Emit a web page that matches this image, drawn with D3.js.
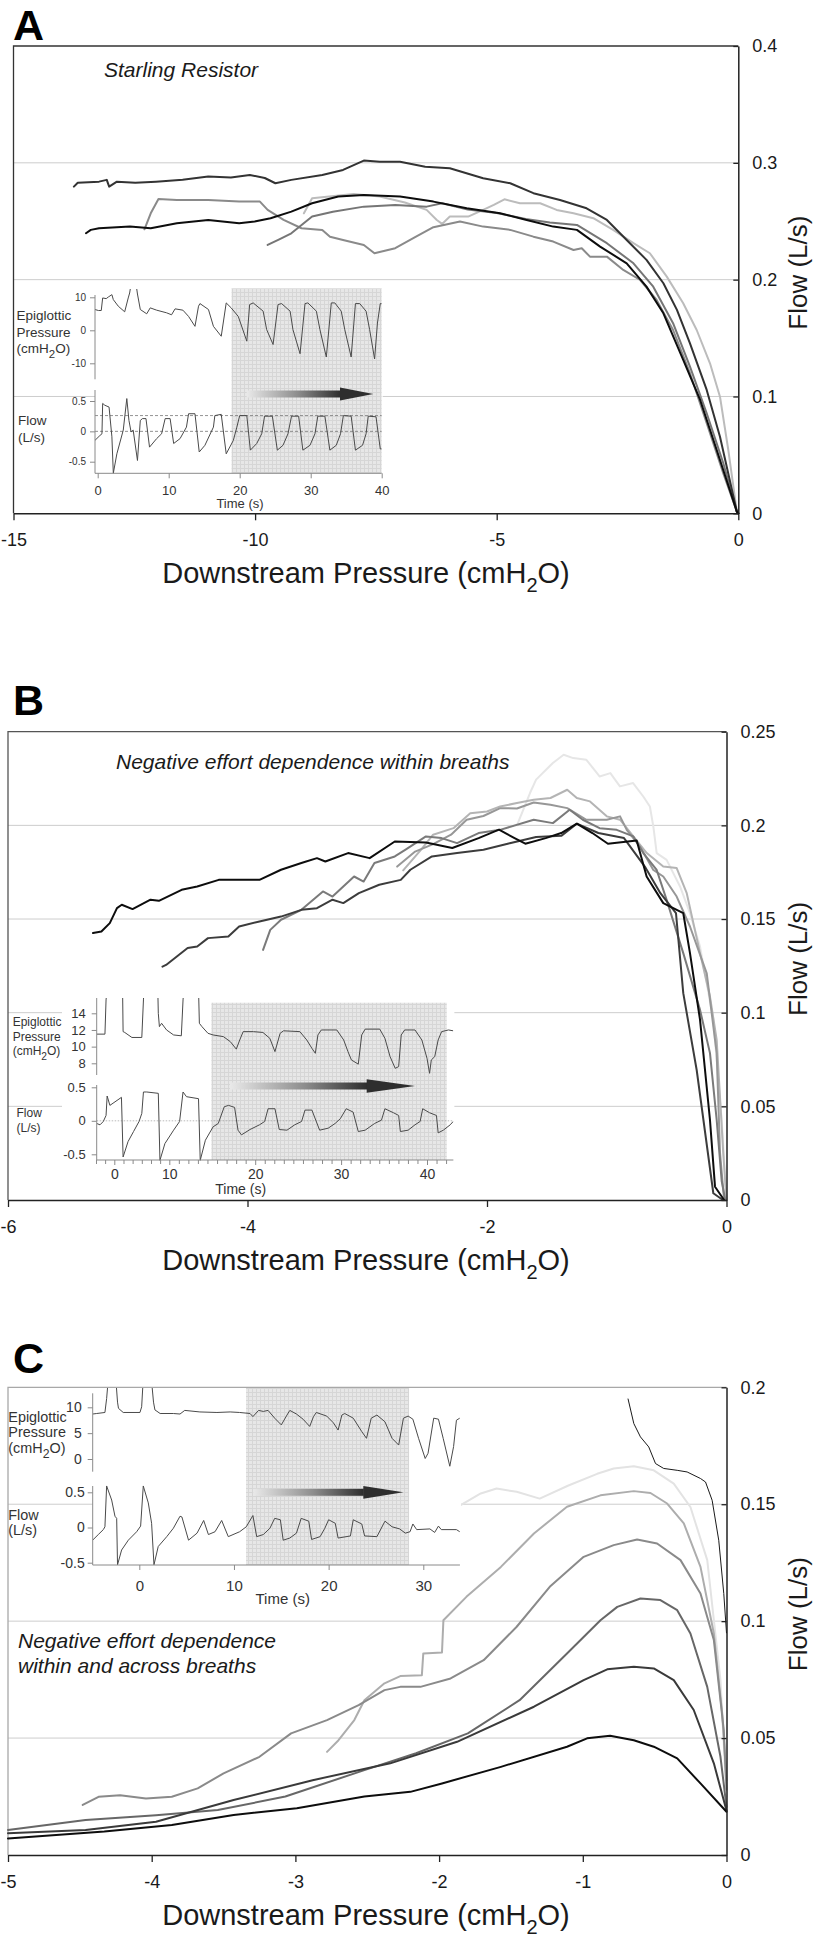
<!DOCTYPE html>
<html>
<head>
<meta charset="utf-8">
<script src="https://cdn.jsdelivr.net/npm/d3@7/dist/d3.min.js"></script>
<style>
html,body{margin:0;padding:0;background:#fff;}
svg{display:block;}
</style>
</head>
<body>
<svg id="chart" width="815" height="1935"></svg>
<script>
// ================= PANEL A : Starling resistor =================
const aXTicks = [-15, -10, -5, 0];
const aXTickLabels = ["-15", "-10", "-5", "0"];
const aYTicks = [0, 0.1, 0.2, 0.3, 0.4];
const aYTickLabels = ["0", "0.1", "0.2", "0.3", "0.4"];
// [downstream pressure (cmH2O), flow (L/s)]
const aCurveDark = [[-13.75,0.2796],[-13.67,0.283],[-13.23,0.2839],[-13.07,0.2854],[-13.02,0.2796],[-12.86,0.2839],[-12.48,0.283],[-12.05,0.2839],[-11.5,0.2855],[-10.97,0.2882],[-10.5,0.2875],[-10.11,0.2896],[-9.8,0.287],[-9.58,0.2825],[-9.25,0.2854],[-8.61,0.2896],[-8.18,0.2939],[-7.75,0.3019],[-7.42,0.301],[-7.0,0.301],[-6.48,0.2967],[-5.97,0.2954],[-5.28,0.2868],[-4.72,0.2825],[-4.24,0.274],[-3.69,0.2682],[-3.14,0.2611],[-2.72,0.2511],[-2.31,0.234],[-1.9,0.2169],[-1.55,0.1969],[-1.27,0.1741],[-1.0,0.1455],[-0.654,0.1056],[-0.379,0.0656],[-0.03,0.0014],[0,0]];
const aCurveBlack = [[-13.5,0.2397],[-13.4,0.2426],[-13.23,0.244],[-12.59,0.2454],[-12.16,0.244],[-11.62,0.2483],[-10.97,0.2511],[-10.33,0.2483],[-10.01,0.2497],[-9.68,0.2526],[-9.25,0.2582],[-8.82,0.2654],[-8.28,0.2711],[-7.75,0.2725],[-7.0,0.2711],[-6.31,0.2668],[-5.62,0.2611],[-4.93,0.2568],[-4.38,0.2511],[-3.83,0.2454],[-3.34,0.2426],[-2.86,0.2283],[-2.31,0.214],[-1.9,0.194],[-1.55,0.1712],[-1.14,0.1313],[-0.79,0.097],[-0.447,0.0542],[-0.03,0.0014],[0,0]];
const aCurveGrayA = [[-12.29,0.2431],[-12.16,0.2568],[-12.0,0.2691],[-11.62,0.2682],[-10.97,0.2682],[-10.33,0.2668],[-9.9,0.2668],[-9.74,0.2597],[-9.41,0.2511],[-9.04,0.244],[-8.61,0.2426],[-8.45,0.2368],[-8.18,0.234],[-7.75,0.2297],[-7.53,0.2226],[-7.1,0.2269],[-6.67,0.2368],[-6.31,0.2449],[-5.76,0.2497],[-5.28,0.2454],[-4.72,0.2426],[-4.24,0.2368],[-3.83,0.2326],[-3.41,0.2254],[-3.24,0.2269],[-3.07,0.2197],[-2.72,0.2197],[-2.38,0.2083],[-2.03,0.1997],[-1.69,0.1826],[-1.35,0.1569],[-1.0,0.1199],[-0.654,0.0771],[-0.31,0.0342],[-0.03,0.0014],[0,0]];
const aCurveGrayB = [[-9.74,0.2297],[-9.5,0.2345],[-9.25,0.2397],[-8.82,0.254],[-8.39,0.2582],[-7.75,0.2625],[-7.1,0.264],[-6.45,0.2625],[-6.13,0.2654],[-5.6,0.26],[-5.0,0.257],[-4.4,0.252],[-3.9,0.249],[-3.34,0.2468],[-2.72,0.2312],[-2.17,0.214],[-1.76,0.194],[-1.35,0.1627],[-1.0,0.1255],[-0.654,0.0856],[-0.31,0.0428],[-0.03,0.0014],[0,0]];
const aCurveLight = [[-8.99,0.2568],[-8.82,0.2697],[-7.96,0.2734],[-7.42,0.2711],[-6.9,0.266],[-6.45,0.2597],[-6.24,0.2511],[-6.13,0.2477],[-5.97,0.254],[-5.59,0.254],[-5.28,0.2597],[-5.06,0.264],[-4.84,0.2688],[-4.52,0.2654],[-4.1,0.2654],[-3.76,0.2597],[-3.41,0.2568],[-3.0,0.2526],[-2.59,0.2426],[-2.17,0.2312],[-1.83,0.2226],[-1.48,0.2026],[-1.14,0.1798],[-0.861,0.1569],[-0.586,0.1284],[-0.379,0.0998],[-0.207,0.0542],[-0.03,0.0014],[0,0]];
// inset A : [time (s), value]
const aInsetTimeTicks = [0, 10, 20, 30, 40];
const aInsetPressTicks = [-10, 0, 10];
const aInsetPressLabels = ["-10", "0", "10"];
const aInsetFlowTicks = [-0.5, 0, 0.5];
const aInsetFlowLabels = ["-0.5", "0", "0.5"];
const aInsetFlowRefs = [0, 0.26];
const aInsetPressure = [[-0.4,6.3],[0.1,6],[0.5,6],[0.7,9.8],[1.2,9.6],[1.5,10.1],[2.0,10.8],[2.2,9.3],[2.9,7.3],[3.8,5.6],[4.3,9.8],[4.5,11.3],[4.7,14],[5.4,14],[5.6,11],[6.0,6.3],[6.9,5],[7.4,6.8],[8.3,6.1],[9.7,5.3],[10.4,4.7],[10.9,6.5],[12.0,6.1],[12.8,4.2],[13.7,1.2],[14.2,7.3],[14.4,8.1],[15.6,6.3],[16.3,1.2],[17.4,-1.8],[18.1,8.3],[18.8,6.8],[19.8,4.2],[21.0,-3.3],[21.4,7.8],[21.9,8.3],[23.3,5.8],[23.8,0.2],[24.7,-4.3],[25.4,7.8],[25.9,8.1],[27.1,5.8],[27.5,0.2],[28.5,-7.1],[29.2,8.1],[29.6,8.3],[30.8,5.8],[31.3,0.2],[32.2,-8.1],[32.9,8.3],[33.4,8.3],[34.3,5.8],[34.8,0.2],[35.7,-8.1],[36.3,8.1],[36.9,8.1],[37.8,5.8],[38.3,0.2],[39.0,-8.7],[39.4,2.2],[39.8,8.1],[40.0,8.1]];
const aInsetFlow = [[-0.4,-0.15],[0.3,-0.07],[0.6,-0.04],[0.7,0.46],[1.0,0.43],[1.6,0.40],[2.0,-0.09],[2.2,-0.69],[2.7,-0.37],[3.6,0.02],[4.1,0.54],[4.4,0.18],[4.7,-0.01],[5.0,0.02],[5.6,-0.48],[6.0,0.18],[6.3,0.21],[6.8,0.21],[7.3,-0.26],[8.3,-0.12],[9.0,-0.04],[9.5,0.21],[10.2,0.21],[10.7,-0.2],[11.6,-0.12],[12.5,0.07],[12.8,0.29],[13.7,0.29],[14.3,-0.34],[15.1,-0.23],[16.3,0.07],[16.5,0.26],[17.4,0.28],[18.1,-0.37],[19.1,-0.15],[19.6,0.07],[20.0,0.26],[21.0,0.26],[21.5,-0.31],[22.4,-0.2],[23.1,-0.04],[23.5,0.25],[24.6,0.25],[25.3,-0.31],[26.1,-0.23],[26.8,-0.04],[27.3,0.25],[28.3,0.25],[28.9,-0.31],[29.9,-0.23],[30.6,-0.04],[31.0,0.25],[32.0,0.25],[32.7,-0.31],[33.6,-0.23],[34.2,-0.04],[34.6,0.26],[35.7,0.25],[36.3,-0.31],[37.3,-0.23],[37.8,-0.04],[38.1,0.25],[39.2,0.24],[39.8,-0.29],[40.0,-0.29]];

// ================= PANEL B : within breaths =================
const bXTicks = [-6, -4, -2, 0];
const bXTickLabels = ["-6", "-4", "-2", "0"];
const bYTicks = [0, 0.05, 0.1, 0.15, 0.2, 0.25];
const bYTickLabels = ["0", "0.05", "0.1", "0.15", "0.2", "0.25"];
const bCurveBlack = [[-5.29,0.1425],[-5.22,0.1433],[-5.15,0.1478],[-5.09,0.1558],[-5.05,0.1576],[-4.96,0.1553],[-4.81,0.1603],[-4.74,0.1597],[-4.55,0.1656],[-4.42,0.1674],[-4.24,0.1709],[-3.9,0.1709],[-3.72,0.1763],[-3.55,0.1799],[-3.42,0.1825],[-3.35,0.1807],[-3.16,0.1852],[-2.98,0.1825],[-2.77,0.1914],[-2.51,0.1909],[-2.29,0.1879],[-2.07,0.1932],[-1.9,0.1977],[-1.77,0.1932],[-1.68,0.1902],[-1.51,0.1932],[-1.38,0.1959],[-1.25,0.2009],[-1.12,0.1959],[-0.99,0.1902],[-0.75,0.1919],[-0.667,0.1727],[-0.528,0.1585],[-0.361,0.1531],[-0.305,0.1318],[-0.221,0.0962],[-0.138,0.0427],[-0.096,0.0071],[-0.02,0]];
const bCurveDark = [[-4.71,0.1246],[-4.68,0.1255],[-4.59,0.13],[-4.5,0.1345],[-4.42,0.1353],[-4.33,0.1398],[-4.16,0.1407],[-4.07,0.146],[-3.9,0.1487],[-3.72,0.1513],[-3.55,0.1549],[-3.42,0.1558],[-3.29,0.1603],[-3.2,0.1585],[-3.07,0.1638],[-2.9,0.1683],[-2.72,0.1709],[-2.64,0.1763],[-2.46,0.1834],[-2.25,0.1852],[-2.03,0.187],[-1.81,0.1905],[-1.59,0.1938],[-1.38,0.1944],[-1.25,0.2009],[-1.07,0.1959],[-0.856,0.1932],[-0.682,0.178],[-0.552,0.1638],[-0.422,0.1532],[-0.361,0.1104],[-0.249,0.0694],[-0.11,0.0036],[-0.03,0]];
const bCurveGray = [[-3.87,0.1335],[-3.81,0.1442],[-3.72,0.1496],[-3.55,0.1549],[-3.37,0.1647],[-3.29,0.162],[-3.11,0.1727],[-3.03,0.17],[-2.94,0.1799],[-2.77,0.1834],[-2.68,0.187],[-2.51,0.1941],[-2.38,0.1932],[-2.25,0.1905],[-2.07,0.1959],[-1.89,0.1976],[-1.61,0.203],[-1.45,0.2012],[-1.31,0.2083],[-1.2,0.203],[-1.06,0.1985],[-0.917,0.1976],[-0.778,0.1941],[-0.695,0.1852],[-0.583,0.1762],[-0.5,0.1602],[-0.361,0.1318],[-0.221,0.1015],[-0.138,0.0784],[-0.082,0.0427],[-0.04,0.01],[-0.01,0]];
const bCurveMid = [[-2.75,0.178],[-2.6,0.186],[-2.45,0.19],[-2.3,0.195],[-2.17,0.203],[-2.03,0.205],[-1.89,0.2092],[-1.75,0.209],[-1.61,0.2122],[-1.47,0.211],[-1.33,0.2092],[-1.17,0.203],[-1.0,0.203],[-0.889,0.2048],[-0.833,0.1976],[-0.722,0.1887],[-0.611,0.1762],[-0.528,0.1727],[-0.416,0.162],[-0.305,0.146],[-0.165,0.121],[-0.082,0.0784],[-0.054,0.025],[-0.02,0]];
const bCurveLight = [[-2.7,0.176],[-2.55,0.187],[-2.45,0.195],[-2.28,0.1985],[-2.14,0.2065],[-2.0,0.2074],[-1.89,0.2101],[-1.75,0.2119],[-1.61,0.2137],[-1.47,0.2146],[-1.33,0.219],[-1.25,0.2146],[-1.14,0.2128],[-1.0,0.2048],[-0.889,0.203],[-0.778,0.1941],[-0.666,0.1852],[-0.528,0.178],[-0.416,0.1772],[-0.332,0.1638],[-0.221,0.1318],[-0.138,0.1086],[-0.082,0.0855],[-0.027,0.0249],[0,0]];
const bCurveFaint = [[-1.75,0.2],[-1.64,0.2174],[-1.59,0.2244],[-1.45,0.2333],[-1.36,0.2377],[-1.28,0.2359],[-1.17,0.235],[-1.06,0.2261],[-0.97,0.2279],[-0.89,0.2208],[-0.78,0.2226],[-0.695,0.2154],[-0.64,0.2101],[-0.611,0.1994],[-0.583,0.1852],[-0.5,0.1816],[-0.388,0.1674],[-0.305,0.1531],[-0.221,0.1353],[-0.11,0.0962],[-0.04,0.0427],[0,0]];
// inset B
const bInsetTimeTicks = [0, 10, 20, 30, 40];
const bInsetTimeBreaks = [0, 10, 40];
const bInsetMinorTicks = [-3.33,-1.67,1.67,3.33,5,6.67,8.33,11.11,12.22,13.33,14.44,15.56,16.67,17.78,18.89,21.11,22.22,23.33,24.44,25.56,26.67,27.78,28.89,31.11,32.22,33.33,34.44,35.56,36.67,37.78,38.89,41.11,42.22];
const bInsetPressTicks = [8, 10, 12, 14];
const bInsetPressLabels = ["8", "10", "12", "14"];
const bInsetFlowTicks = [-0.5, 0, 0.5];
const bInsetFlowLabels = ["-0.5", "0", "0.5"];
const bInsetFlowRefs = [0];
const bInsetPressure = [[-3.2,11.5],[-1.7,11.5],[-1.5,15.6],[-1.3,17],[1.5,17],[1.6,11.8],[1.9,11.7],[3.2,11.1],[5.0,11.1],[5.3,15.6],[5.4,17],[7.9,17],[8.0,14],[8.2,12.4],[8.6,12.8],[9.5,12.0],[10.5,11.4],[11.4,11.3],[11.6,15.6],[11.7,17],[13.4,17],[13.5,12.8],[13.8,12.4],[14.5,11.6],[15.1,11.4],[16.3,11.2],[17.1,10.6],[17.8,9.7],[18.2,10.8],[18.6,11.8],[19.8,11.8],[20.9,11.7],[21.7,11],[22.3,9.4],[22.9,11.6],[23.3,11.9],[25.2,11.8],[26.0,10.8],[26.6,9.8],[27.0,9.2],[27.3,11.4],[27.7,12],[29.5,12],[30.3,10.8],[30.8,9.4],[31.2,8.4],[32.0,7.9],[32.4,11.4],[32.8,12.1],[34.5,12.1],[35.1,11],[35.7,8.8],[36.3,7.4],[36.7,7.6],[37.0,11.4],[37.4,12],[38.6,12],[39.4,10.8],[40.0,8.6],[40.3,6.8],[40.5,8.4],[40.9,8.8],[41.3,10.8],[41.7,11.8],[42.5,12],[43.05,11.9]];
const bInsetFlow = [[-3.2,-0.04],[-2.6,-0.06],[-2.0,-0.01],[-1.5,0.08],[-1.3,0.37],[-0.8,0.23],[1.3,0.35],[1.6,-0.54],[2.5,-0.31],[3.5,-0.16],[4.5,-0.01],[5.0,0.11],[5.3,0.43],[5.9,0.43],[8.0,0.41],[8.3,-0.59],[9.2,-0.34],[10.5,-0.14],[11.2,-0.01],[11.6,0.43],[12.0,0.36],[13.4,0.33],[13.6,-0.59],[14.2,-0.29],[15.1,-0.09],[15.7,-0.04],[16.4,0.21],[16.9,0.23],[17.6,0.2],[18.0,-0.14],[18.4,-0.21],[19.4,-0.13],[20.5,-0.06],[21.1,-0.01],[21.5,0.18],[22.3,0.18],[22.8,-0.13],[23.7,-0.14],[24.6,-0.06],[25.4,-0.01],[25.8,0.16],[26.6,0.16],[27.5,-0.14],[28.5,-0.11],[29.3,-0.04],[29.9,0.03],[30.6,0.18],[31.4,0.13],[32.0,-0.16],[32.8,-0.14],[33.9,-0.04],[34.7,0.01],[35.1,0.18],[36.1,0.12],[36.7,0.08],[36.9,-0.16],[37.8,-0.14],[38.6,-0.06],[39.2,-0.01],[39.5,0.18],[40.3,0.12],[41.1,0.08],[41.3,-0.18],[41.9,-0.14],[42.7,-0.06],[43.05,-0.01]];

// ================= PANEL C : within and across breaths =================
const cXTicks = [-5, -4, -3, -2, -1, 0];
const cXTickLabels = ["-5", "-4", "-3", "-2", "-1", "0"];
const cYTicks = [0, 0.05, 0.1, 0.15, 0.2];
const cYTickLabels = ["0", "0.05", "0.1", "0.15", "0.2"];
const cCurveBlack = [[-5,0.0071],[-4.33,0.010],[-3.86,0.0128],[-3.43,0.0171],[-2.99,0.020],[-2.52,0.025],[-2.2,0.027],[-1.98,0.0306],[-1.57,0.0377],[-1.11,0.0463],[-0.97,0.0499],[-0.81,0.051],[-0.645,0.0491],[-0.506,0.0463],[-0.343,0.0413],[-0.181,0.0306],[0,0.0185]];
const cCurveDark = [[-5,0.0093],[-4.46,0.0107],[-3.97,0.0142],[-3.43,0.0235],[-2.88,0.032],[-2.34,0.0392],[-1.875,0.0484],[-1.34,0.0634],[-0.994,0.0748],[-0.83,0.0794],[-0.645,0.0805],[-0.506,0.0798],[-0.367,0.0748],[-0.228,0.062],[-0.088,0.0392],[0,0.019]];
const cCurveMid = [[-5,0.0107],[-4.46,0.015],[-3.97,0.017],[-3.54,0.0192],[-3.07,0.025],[-2.52,0.0363],[-2.16,0.0435],[-1.8,0.052],[-1.44,0.0662],[-1.11,0.0862],[-0.877,0.1004],[-0.76,0.1061],[-0.599,0.1097],[-0.46,0.109],[-0.343,0.1047],[-0.251,0.0947],[-0.134,0.0719],[-0.042,0.042],[0,0.0206]];
const cCurveGray = [[-4.48,0.0214],[-4.37,0.0249],[-4.22,0.0256],[-4.04,0.0242],[-3.86,0.0249],[-3.68,0.0285],[-3.5,0.0349],[-3.25,0.042],[-3.03,0.052],[-2.78,0.0577],[-2.56,0.0641],[-2.38,0.0705],[-2.27,0.0719],[-2.13,0.0719],[-1.92,0.0755],[-1.69,0.0833],[-1.46,0.0976],[-1.23,0.1147],[-0.994,0.1275],[-0.785,0.1325],[-0.622,0.1349],[-0.483,0.1332],[-0.32,0.1261],[-0.181,0.1118],[-0.088,0.0919],[-0.019,0.0534],[0,0.028]];
const cCurveLight = [[-2.78,0.0441],[-2.7,0.0491],[-2.59,0.0577],[-2.52,0.0662],[-2.38,0.0734],[-2.27,0.0765],[-2.12,0.0769],[-2.11,0.0862],[-1.98,0.0866],[-1.97,0.1004],[-1.81,0.1104],[-1.57,0.1232],[-1.34,0.1375],[-1.11,0.1489],[-0.877,0.1538],[-0.645,0.1556],[-0.529,0.1548],[-0.413,0.1503],[-0.297,0.1418],[-0.181,0.1232],[-0.088,0.0947],[-0.03,0.0605],[0,0.032]];
const cCurveFaint = [[-2.5,0.13],[-2.1,0.142],[-1.85,0.1496],[-1.71,0.1546],[-1.6,0.1567],[-1.46,0.1553],[-1.3,0.1524],[-1.1,0.158],[-0.9,0.163],[-0.785,0.1653],[-0.645,0.1662],[-0.506,0.1645],[-0.367,0.1588],[-0.251,0.1488],[-0.134,0.1261],[-0.042,0.0748],[0,0.025]];
const cCurveThin = [[-0.685,0.195],[-0.645,0.1845],[-0.599,0.1788],[-0.541,0.1745],[-0.494,0.1674],[-0.437,0.1653],[-0.343,0.1645],[-0.274,0.1638],[-0.181,0.161],[-0.146,0.1595],[-0.1,0.1517],[-0.054,0.1346],[-0.019,0.1118],[0,0.095]];
// inset C
const cInsetTimeTicks = [0, 10, 20, 30];
const cInsetPressTicks = [0, 5, 10];
const cInsetPressLabels = ["0", "5", "10"];
const cInsetFlowTicks = [-0.5, 0, 0.5];
const cInsetFlowLabels = ["-0.5", "0", "0.5"];
const cInsetPressure = [[-4.93,8.7],[-4.5,8.8],[-3.63,9.0],[-3.45,11.7],[-3.3,15],[-2.46,15],[-2.3,11],[-2.2,9.8],[-1.7,9.0],[0.07,9.0],[0.25,10.1],[0.4,15],[1.3,15],[1.5,11],[1.65,9.5],[2.2,8.8],[3.6,8.8],[4.3,8.7],[4.8,9.4],[6.4,9.1],[8.2,9.0],[9.6,9.1],[10.6,9.0],[11.7,8.8],[12.0,8.2],[12.6,9.4],[13.1,9.2],[13.6,9.4],[14.3,7.9],[15.0,6.6],[15.6,8.5],[15.9,9.4],[16.6,8.7],[17.3,7.7],[18.0,6.3],[18.4,8.2],[18.7,9.0],[19.8,8.3],[20.5,7.0],[21.0,5.6],[21.4,8.5],[21.7,8.8],[22.6,7.9],[23.5,5.3],[24.0,4.0],[24.5,7.9],[25.1,8.5],[25.95,7.2],[26.7,4.0],[27.4,2.7],[27.9,7.9],[28.4,8.3],[28.9,7.7],[29.5,4.0],[30.2,0.1],[30.5,1.1],[31.1,7.9],[31.6,7.7],[32.1,4.0],[32.8,-1.4],[33.2,2.4],[33.5,7.5],[33.85,7.9]];
const cInsetFlow = [[-4.93,-0.18],[-4.33,-0.10],[-3.8,-0.03],[-3.63,0.01],[-3.45,0.59],[-2.92,0.39],[-2.57,0.16],[-2.39,0.13],[-2.3,-0.53],[-1.87,-0.32],[-1.16,-0.18],[-0.28,-0.06],[0.14,0.02],[0.42,0.59],[0.95,0.35],[1.3,0.06],[1.55,-0.53],[2.0,-0.27],[2.9,-0.13],[3.6,-0.01],[4.3,0.16],[4.5,0.15],[5.2,-0.18],[6.1,-0.08],[6.8,0.10],[7.3,-0.10],[8.0,-0.06],[8.7,0.10],[9.4,-0.13],[10.6,-0.06],[11.3,0.01],[12.0,0.17],[12.4,-0.13],[13.1,-0.10],[13.8,-0.01],[14.3,0.13],[14.9,0.11],[15.2,-0.18],[15.9,-0.15],[16.6,-0.08],[17.1,0.13],[17.9,0.09],[18.2,-0.17],[19.1,-0.13],[19.6,-0.01],[20.0,0.11],[20.7,0.06],[21.0,-0.15],[22.3,-0.12],[22.6,0.11],[23.5,0.05],[23.8,-0.12],[25.1,-0.13],[25.95,0.09],[26.7,0.01],[27.5,-0.02],[28.1,-0.08],[28.6,-0.06],[28.9,0.05],[29.3,-0.03],[30.7,-0.02],[31.2,-0.07],[31.6,0.02],[31.9,-0.03],[33.5,-0.03],[33.85,-0.06]];

// ================= DRAWING =================
const FONT = '"Liberation Sans", Arial, Helvetica, sans-serif';
const TXT = '#1a1a1a';
const svg = d3.select('#chart').attr('font-family', FONT);
const defs = svg.append('defs');

// fine grid pattern for the shaded time window
const pat = defs.append('pattern').attr('id', 'gridPat').attr('patternUnits', 'userSpaceOnUse').attr('width', 4).attr('height', 4);
pat.append('rect').attr('width', 4).attr('height', 4).attr('fill', '#e7e7e7');
pat.append('path').attr('d', 'M0.5,0V4M0,0.5H4').attr('stroke', '#d6d6d6').attr('stroke-width', 1);

function cmH2O(sel, sub) {
  sel.append('tspan').text('(cmH');
  sel.append('tspan').attr('dy', sub.dy).attr('font-size', sub.size).text('2');
  sel.append('tspan').attr('dy', -sub.dy).text('O)');
}

function drawInset(root, c) {
  const g = root.append('g');
  const tx = d3.scaleLinear().domain(c.tDomain).range(c.tRange);
  const py = d3.scaleLinear().domain(c.pDomain).range(c.pRange);
  const fy = d3.scaleLinear().domain(c.fDomain).range(c.fRange);
  const x0 = c.axisX, x1 = tx(c.tEnd);

  // white backdrop (hides the main chart behind the inset)
  g.append('rect').attr('x', c.boxX).attr('y', c.boxTop)
    .attr('width', x1 - c.boxX + 1).attr('height', c.boxBottom - c.boxTop).attr('fill', '#fff');
  // shaded analysis window
  g.append('rect').attr('x', tx(c.shade[0])).attr('y', c.shadeTop)
    .attr('width', tx(c.shade[1]) - tx(c.shade[0])).attr('height', c.timeAxisY - c.shadeTop)
    .attr('fill', 'url(#gridPat)');

  // reference lines on flow
  (c.flowRefs || []).forEach(v => {
    g.append('line').attr('x1', x0).attr('x2', x1).attr('y1', fy(v)).attr('y2', fy(v))
      .attr('stroke', c.refColor).attr('stroke-width', 0.8).attr('stroke-dasharray', c.refDash);
  });

  // clip paths
  defs.append('clipPath').attr('id', c.id + 'pc').append('rect')
    .attr('x', x0).attr('y', c.pClip[0]).attr('width', x1 - x0).attr('height', c.pClip[1] - c.pClip[0]);
  defs.append('clipPath').attr('id', c.id + 'fc').append('rect')
    .attr('x', x0).attr('y', c.fClip[0]).attr('width', x1 - x0).attr('height', c.fClip[1] - c.fClip[0]);

  const lp = d3.line().x(d => tx(d[0])).y(d => py(d[1]));
  const lf = d3.line().x(d => tx(d[0])).y(d => fy(d[1]));
  g.append('path').attr('d', lp(c.pressure)).attr('fill', 'none').attr('stroke', '#4a4a4a')
    .attr('stroke-width', 1).attr('stroke-linejoin', 'round').attr('clip-path', `url(#${c.id}pc)`);
  g.append('path').attr('d', lf(c.flow)).attr('fill', 'none').attr('stroke', '#4a4a4a')
    .attr('stroke-width', 1).attr('stroke-linejoin', 'round').attr('clip-path', `url(#${c.id}fc)`);

  // axes lines
  const axCol = '#8a8a8a';
  g.append('line').attr('x1', x0).attr('x2', x0).attr('y1', c.pAxis[0]).attr('y2', c.pAxis[1]).attr('stroke', axCol);
  g.append('line').attr('x1', x0).attr('x2', x0).attr('y1', c.fAxis[0]).attr('y2', c.timeAxisY).attr('stroke', axCol);
  g.append('line').attr('x1', x0).attr('x2', x1).attr('y1', c.timeAxisY).attr('y2', c.timeAxisY).attr('stroke', axCol);

  function styleAxis(a, size) {
    a.select('.domain').remove();
    a.selectAll('line').attr('stroke', axCol);
    a.attr('font-size', size).attr('font-family', FONT);
    a.selectAll('text').attr('fill', '#333');
  }
  const pa = g.append('g').attr('transform', `translate(${x0},0)`)
    .call(d3.axisLeft(py).tickValues(c.pTicks).tickFormat((d, i) => c.pLabels[i]).tickSize(5).tickPadding(c.pPad));
  styleAxis(pa, c.tickFont);
  const fa = g.append('g').attr('transform', `translate(${x0},0)`)
    .call(d3.axisLeft(fy).tickValues(c.fTicks).tickFormat((d, i) => c.fLabels[i]).tickSize(5).tickPadding(c.fPad));
  styleAxis(fa, c.tickFont);
  if (c.minorTicks) {
    const ma = g.append('g').attr('transform', `translate(0,${c.timeAxisY})`)
      .call(d3.axisBottom(tx).tickValues(c.minorTicks).tickFormat('').tickSize(4));
    styleAxis(ma, c.timeFont);
  }
  const tPad = c.tLabelY - c.timeAxisY - 5 - 0.71 * c.timeFont;
  const ta = g.append('g').attr('transform', `translate(0,${c.timeAxisY})`)
    .call(d3.axisBottom(tx).tickValues(c.tTicks).tickFormat(d3.format('d')).tickSize(5).tickPadding(tPad));
  styleAxis(ta, c.timeFont);

  g.append('text').attr('x', c.timeTitle[0]).attr('y', c.timeTitle[1]).attr('text-anchor', 'middle')
    .attr('font-size', c.timeFont).attr('fill', '#333').text('Time (s)');

  // labels
  const lab = g.append('g').attr('font-size', c.labelFont).attr('fill', '#333');
  lab.append('text').attr('x', c.pLabelX).attr('y', c.pLabelY[0]).text('Epiglottic');
  lab.append('text').attr('x', c.pLabelX).attr('y', c.pLabelY[1]).text('Pressure');
  cmH2O(lab.append('text').attr('x', c.pLabelX).attr('y', c.pLabelY[2]), {dy: c.labelFont * 0.4, size: c.labelFont * 0.85});
  lab.append('text').attr('x', c.fLabelX).attr('y', c.fLabelY[0]).text('Flow');
  lab.append('text').attr('x', c.fLabelX).attr('y', c.fLabelY[1]).text('(L/s)');

  // gradient arrow
  const gid = c.id + 'grad';
  const gr = defs.append('linearGradient').attr('id', gid).attr('gradientUnits', 'userSpaceOnUse')
    .attr('x1', c.arrow.x0).attr('x2', c.arrow.head).attr('y1', 0).attr('y2', 0);
  gr.append('stop').attr('offset', 0).attr('stop-color', '#e9e9e9');
  gr.append('stop').attr('offset', 0.55).attr('stop-color', '#8c8c8c');
  gr.append('stop').attr('offset', 1).attr('stop-color', '#2e2e2e');
  const ay = c.arrow.y;
  g.append('rect').attr('x', c.arrow.x0).attr('y', ay - c.arrow.shaft / 2)
    .attr('width', c.arrow.head - c.arrow.x0 + 0.5).attr('height', c.arrow.shaft).attr('fill', `url(#${gid})`);
  g.append('path').attr('d', `M${c.arrow.head},${ay - c.arrow.headH / 2}L${c.arrow.x1},${ay}L${c.arrow.head},${ay + c.arrow.headH / 2}Z`)
    .attr('fill', '#2e2e2e');
}

function drawPanel(c) {
  const g = svg.append('g');
  const x = d3.scaleLinear().domain(c.xDomain).range([c.left, c.right]);
  const y = d3.scaleLinear().domain(c.yDomain).range([c.bottom, c.top]);

  // panel letter
  g.append('text').attr('x', c.letterPos[0]).attr('y', c.letterPos[1]).attr('font-size', 43)
    .attr('font-weight', 'bold').attr('fill', '#000').text(c.letter);

  // gridlines
  g.selectAll('line.grid').data(c.yTicks.filter(v => v > c.yDomain[0] && v < c.yDomain[1])).join('line')
    .attr('class', 'grid').attr('x1', c.left).attr('x2', c.right)
    .attr('y1', d => y(d)).attr('y2', d => y(d)).attr('stroke', '#cdcdcd').attr('stroke-width', 1);

  // frame (left & top)
  g.append('path').attr('d', `M${c.left},${c.bottom}V${c.top}H${c.right}`).attr('fill', 'none')
    .attr('stroke', c.frameColor).attr('stroke-width', 1.3);

  // curves
  const line = d3.line().x(d => x(d[0])).y(d => y(d[1]));
  c.curves.forEach(cv => {
    g.append('path').attr('d', line(cv.data)).attr('fill', 'none').attr('stroke', cv.color)
      .attr('stroke-width', cv.width).attr('stroke-linejoin', 'round').attr('stroke-linecap', 'round');
  });

  // description text
  const desc = g.append('g').attr('font-size', 21).attr('font-style', 'italic').attr('fill', TXT);
  c.desc.forEach(d => desc.append('text').attr('x', d[0]).attr('y', d[1]).text(d[2]));

  if (c.inset) drawInset(g, c.inset);

  // axes
  const xa = g.append('g').attr('transform', `translate(0,${c.bottom})`)
    .call(d3.axisBottom(x).tickValues(c.xTicks).tickFormat((d, i) => c.xTickLabels[i])
      .tickSizeInner(7).tickSizeOuter(0).tickPadding(13));
  const ya = g.append('g').attr('transform', `translate(${c.right},0)`)
    .call(d3.axisRight(y).tickValues(c.yTicks).tickFormat((d, i) => c.yTickLabels[i])
      .tickSizeInner(-5).tickSizeOuter(0).tickPadding(14));
  [xa, ya].forEach(a => {
    a.attr('font-family', FONT).attr('font-size', 18);
    a.select('.domain').attr('stroke', '#222').attr('stroke-width', 1.5);
    a.selectAll('.tick line').attr('stroke', '#222').attr('stroke-width', 1.3);
    a.selectAll('text').attr('fill', TXT);
  });

  // axis titles
  const xt = g.append('text').attr('x', 366).attr('y', c.bottom + 70).attr('text-anchor', 'middle')
    .attr('font-size', 29).attr('fill', TXT);
  xt.append('tspan').text('Downstream Pressure ');
  cmH2O(xt, {dy: 9, size: 20});
  g.append('text').attr('transform', `translate(807,${(c.top + c.bottom) / 2 - 7}) rotate(-90)`)
    .attr('text-anchor', 'middle').attr('font-size', 26).attr('fill', TXT).text('Flow (L/s)');
}

// ---------- Panel A ----------
drawPanel({
  letter: 'A', letterPos: [13, 39.5],
  left: 13.5, right: 738.3, top: 46, bottom: 513.3,
  xDomain: [-15, 0], yDomain: [0, 0.4],
  xTicks: aXTicks, xTickLabels: aXTickLabels, yTicks: aYTicks, yTickLabels: aYTickLabels,
  frameColor: '#333',
  desc: [[104, 77, 'Starling Resistor']],
  curves: [
    {data: aCurveLight, color: '#bcbcbc', width: 2},
    {data: aCurveGrayA, color: '#8a8a8a', width: 2},
    {data: aCurveGrayB, color: '#767676', width: 2},
    {data: aCurveDark, color: '#333', width: 2},
    {data: aCurveBlack, color: '#0d0d0d', width: 2}
  ],
  inset: {
    id: 'ia', tDomain: [0, 40], tRange: [97.7, 381.7], tEnd: 40,
    pDomain: [-10, 10], pRange: [363.3, 297.3], fDomain: [-0.5, 0.5], fRange: [461.7, 401],
    axisX: 95, pAxis: [295, 379.3], fAxis: [390], timeAxisY: 473.3,
    boxX: 95, boxTop: 286, boxBottom: 474,
    pClip: [289, 382], fClip: [386, 474],
    shade: [18.85, 40], shadeTop: 288.3,
    pTicks: aInsetPressTicks, pLabels: aInsetPressLabels, fTicks: aInsetFlowTicks, fLabels: aInsetFlowLabels,
    tTicks: aInsetTimeTicks, pPad: 4, fPad: 4, tickFont: 10, timeFont: 13, labelFont: 13.5,
    tLabelY: 495, timeTitle: [240, 507.5],
    pressure: aInsetPressure, flow: aInsetFlow,
    flowRefs: aInsetFlowRefs, refColor: '#777', refDash: '3,2',
    pLabelX: 16.5, pLabelY: [320, 336.5, 352.5], fLabelX: 18, fLabelY: [425, 441.5],
    arrow: {x0: 246.7, head: 340, x1: 373.3, y: 394, shaft: 7, headH: 13}
  }
});

// ---------- Panel B ----------
drawPanel({
  letter: 'B', letterPos: [13, 715],
  left: 8, right: 726.5, top: 731.7, bottom: 1200,
  xDomain: [-6, 0], yDomain: [0, 0.25],
  xTicks: bXTicks, xTickLabels: bXTickLabels, yTicks: bYTicks, yTickLabels: bYTickLabels,
  frameColor: '#555',
  desc: [[116, 769, 'Negative effort dependence within breaths']],
  curves: [
    {data: bCurveFaint, color: '#e6e6e6', width: 2},
    {data: bCurveLight, color: '#b4b4b4', width: 2},
    {data: bCurveMid, color: '#979797', width: 2},
    {data: bCurveGray, color: '#7a7a7a', width: 2},
    {data: bCurveDark, color: '#3c3c3c', width: 2},
    {data: bCurveBlack, color: '#0d0d0d', width: 2}
  ],
  inset: {
    id: 'ib', tDomain: bInsetTimeBreaks, tRange: [114.3, 169.3, 427], tEnd: 43.07,
    pDomain: [8, 14], pRange: [1063.3, 1013.3], fDomain: [-0.5, 0.5], fRange: [1154.3, 1087.3],
    axisX: 96.7, pAxis: [998, 1075], fAxis: [1085], timeAxisY: 1160,
    boxX: 62, boxTop: 996, boxBottom: 1160,
    pClip: [998, 1077], fClip: [1080, 1161],
    shade: [14.9, 42.3], shadeTop: 1002.7,
    pTicks: bInsetPressTicks, pLabels: bInsetPressLabels, fTicks: bInsetFlowTicks, fLabels: bInsetFlowLabels,
    tTicks: bInsetTimeTicks, minorTicks: bInsetMinorTicks, pPad: 6, fPad: 6, tickFont: 13, timeFont: 14, labelFont: 12,
    tLabelY: 1179, timeTitle: [240.7, 1193.5],
    pressure: bInsetPressure, flow: bInsetFlow,
    flowRefs: bInsetFlowRefs, refColor: '#aaa', refDash: '1.5,1.5',
    pLabelX: 12.7, pLabelY: [1026, 1040.5, 1055], fLabelX: 16.5, fLabelY: [1116.7, 1131.7],
    arrow: {x0: 230, head: 366.7, x1: 415, y: 1086, shaft: 7, headH: 13.5}
  }
});

// ---------- Panel C ----------
drawPanel({
  letter: 'C', letterPos: [13, 1373],
  left: 8, right: 726.5, top: 1387.3, bottom: 1855,
  xDomain: [-5, 0], yDomain: [0, 0.2],
  xTicks: cXTicks, xTickLabels: cXTickLabels, yTicks: cYTicks, yTickLabels: cYTickLabels,
  frameColor: '#a8a8a8',
  desc: [[18, 1648, 'Negative effort dependence'], [18, 1673, 'within and across breaths']],
  curves: [
    {data: cCurveFaint, color: '#e3e3e3', width: 2},
    {data: cCurveLight, color: '#adadad', width: 2},
    {data: cCurveGray, color: '#8a8a8a', width: 2},
    {data: cCurveMid, color: '#676767', width: 2},
    {data: cCurveDark, color: '#3a3a3a', width: 2},
    {data: cCurveBlack, color: '#0d0d0d', width: 2},
    {data: cCurveThin, color: '#1a1a1a', width: 1}
  ],
  inset: {
    id: 'ic', tDomain: [0, 30], tRange: [139.3, 423.3], tEnd: 33.87,
    pDomain: [0, 10], pRange: [1459, 1407.3], fDomain: [-0.5, 0.5], fRange: [1562.7, 1492.3],
    axisX: 92.7, pAxis: [1393.3, 1471.7], fAxis: [1486], timeAxisY: 1565,
    boxX: 92.7, boxTop: 1388, boxBottom: 1568,
    pClip: [1388, 1474], fClip: [1480, 1566],
    shade: [11.27, 28.5], shadeTop: 1388,
    pTicks: cInsetPressTicks, pLabels: cInsetPressLabels, fTicks: cInsetFlowTicks, fLabels: cInsetFlowLabels,
    tTicks: cInsetTimeTicks, pPad: 6, fPad: 3, tickFont: 14, timeFont: 15, labelFont: 14.4,
    tLabelY: 1590.7, timeTitle: [282.7, 1604],
    pressure: cInsetPressure, flow: cInsetFlow,
    flowRefs: [], refColor: '#aaa', refDash: '2,2',
    pLabelX: 8.3, pLabelY: [1421.7, 1437.3, 1452.7], fLabelX: 8.3, fLabelY: [1520, 1535],
    arrow: {x0: 253.3, head: 363.3, x1: 403.3, y: 1492.3, shaft: 7, headH: 12.7}
  }
});
</script>
</body>
</html>
